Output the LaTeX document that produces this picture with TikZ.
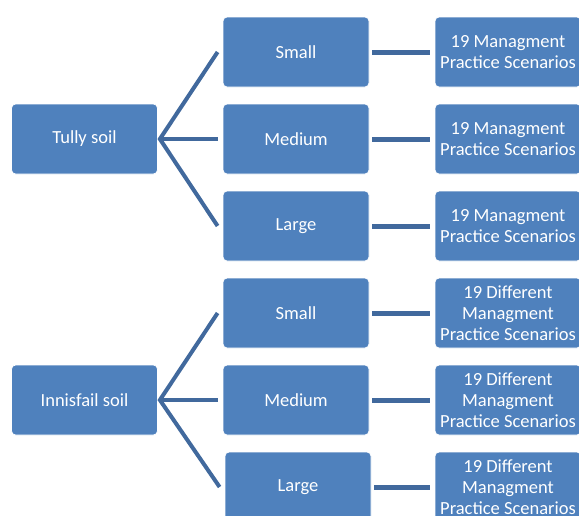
\documentclass[tikz,border=0pt]{standalone}
\usepackage{fontspec}
\setmainfont{Carlito}
\definecolor{boxfill}{HTML}{4F81BD}
\definecolor{linkcol}{HTML}{41699D}
\begin{document}
\begin{tikzpicture}[x=1pt,y=-1pt,
  box/.style={draw=white,line width=0.8pt,fill=boxfill,rounded corners=4pt,
    minimum width=146pt,minimum height=70pt,text=white,align=center,
    font=\fontsize{18.5}{21}\selectfont,inner sep=0pt},
  fan/.style={linkcol,line width=4pt},
  link/.style={linkcol,line width=5pt}]
\useasboundingbox[clip] (0,0) rectangle (579,515);
% upper group
\node[box] (t) at (84.5,139) {Tully soil};
\node[box] (ts) at (296,52) {Small};
\node[box] (tm) at (296,139) {Medium};
\node[box] (tl) at (296,226) {Large};
\node[box] (tsr) at (508,52) {19 Managment\\Practice Scenarios};
\node[box] (tmr) at (508,139) {19 Managment\\Practice Scenarios};
\node[box] (tlr) at (508,226) {19 Managment\\Practice Scenarios};
% lower group
\node[box] (i) at (84.5,400) {Innisfail soil};
\node[box] (is) at (296,313) {Small};
\node[box] (im) at (296,400) {Medium};
\node[box] (il) at (298,487) {Large};
\node[box] (isr) at (508,313) {19 Different\\Managment\\Practice Scenarios};
\node[box] (imr) at (508,400) {19 Different\\Managment\\Practice Scenarios};
\node[box] (ilr) at (508,487) {19 Different\\Managment\\Practice Scenarios};
% fans
\draw[fan,line join=miter] ([xshift=-5pt]ts.west) -- ([xshift=2pt]t.east) -- ([xshift=-5pt]tl.west);
\draw[fan] ([xshift=2pt]t.east) -- ([xshift=-5pt]tm.west);
\draw[fan,line join=miter] ([xshift=-5pt]is.west) -- ([xshift=2pt]i.east) -- ([xshift=-5pt]il.west);
\draw[fan] ([xshift=2pt]i.east) -- ([xshift=-5pt]im.west);
% links
\draw[link] ([xshift=3pt]ts.east) -- ([xshift=-5pt]tsr.west);
\draw[link] ([xshift=3pt]tm.east) -- ([xshift=-5pt]tmr.west);
\draw[link] ([xshift=3pt]tl.east) -- ([xshift=-5pt]tlr.west);
\draw[link] ([xshift=3pt]is.east) -- ([xshift=-5pt]isr.west);
\draw[link] ([xshift=3pt]im.east) -- ([xshift=-5pt]imr.west);
\draw[link] ([xshift=3pt]il.east) -- ([xshift=-5pt]ilr.west);
\end{tikzpicture}
\end{document}
